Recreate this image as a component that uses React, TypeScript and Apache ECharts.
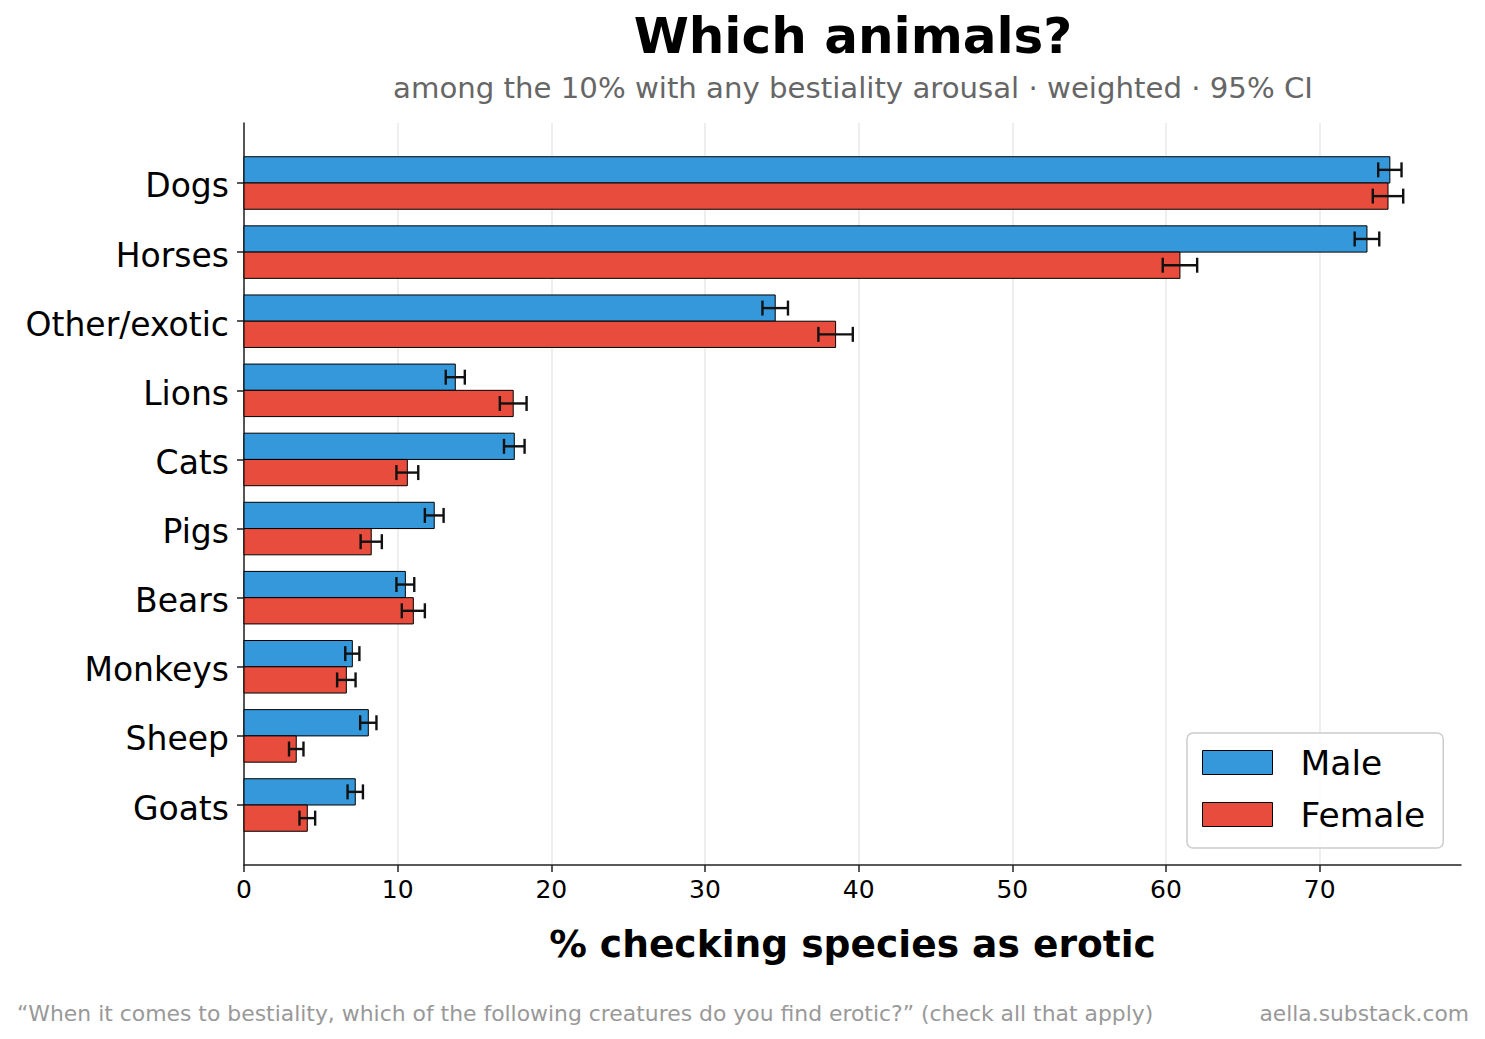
import React, { useEffect, useRef } from "react";
import * as echarts from "echarts";

const categories = ["Dogs", "Horses", "Other/exotic", "Lions", "Cats", "Pigs", "Bears", "Monkeys", "Sheep", "Goats"];
const maleValues = [74.57, 73.08, 34.57, 13.75, 17.59, 12.38, 10.5, 7.05, 8.09, 7.24];
const maleErr = [0.76, 0.8, 0.83, 0.62, 0.67, 0.61, 0.58, 0.46, 0.53, 0.5];
const femaleValues = [74.45, 60.91, 38.5, 17.52, 10.63, 8.28, 11.02, 6.66, 3.4, 4.12];
const femaleErr = [0.99, 1.12, 1.12, 0.87, 0.71, 0.69, 0.75, 0.6, 0.47, 0.51];
const xTicks = [0, 10, 20, 30, 40, 50, 60, 70];

const MALE_COLOR = "#3498db";
const FEMALE_COLOR = "#e74c3c";
const FONT = "DejaVu Sans";
const BAR_H = 0.38;

function makeRender(offsetSign: number) {
  return (params: any, api: any) => {
    const idx = api.value(0);
    const v = api.value(1);
    const e = api.value(2);
    const yA = idx + (offsetSign < 0 ? -BAR_H : 0);
    const yB = idx + (offsetSign < 0 ? 0 : BAR_H);
    const yC = (yA + yB) / 2;
    const p0 = api.coord([0, yA]);
    const p1 = api.coord([v, yB]);
    const pc = api.coord([v, yC]);
    const lo = api.coord([v - e, yC]);
    const hi = api.coord([v + e, yC]);
    const x = Math.min(p0[0], p1[0]);
    const y = Math.min(p0[1], p1[1]);
    const cap = 7.5;
    const errStyle = { stroke: "#111", lineWidth: 2.4 };
    return {
      type: "group",
      children: [
        {
          type: "rect",
          shape: { x, y, width: Math.abs(p1[0] - p0[0]), height: Math.abs(p1[1] - p0[1]) },
          style: { fill: api.visual("color"), stroke: "#000", lineWidth: 1 },
        },
        { type: "line", shape: { x1: lo[0], y1: pc[1], x2: hi[0], y2: pc[1] }, style: errStyle },
        { type: "line", shape: { x1: lo[0], y1: pc[1] - cap, x2: lo[0], y2: pc[1] + cap }, style: errStyle },
        { type: "line", shape: { x1: hi[0], y1: pc[1] - cap, x2: hi[0], y2: pc[1] + cap }, style: errStyle },
      ],
    };
  };
}

export default function App() {
  const ref = useRef<HTMLDivElement>(null);
  useEffect(() => {
    if (!ref.current) return;
    const chart = echarts.init(ref.current, undefined, { renderer: "svg" });
    const maleData = categories.map((_, i) => [i, maleValues[i], maleErr[i]]);
    const femaleData = categories.map((_, i) => [i, femaleValues[i], femaleErr[i]]);
    chart.setOption({
      animation: false,
      backgroundColor: "#fff",
      textStyle: { fontFamily: FONT },
      title: [
        {
          text: "Which animals?",
          left: 848,
          top: 6,
          textAlign: "center",
          textStyle: { fontFamily: FONT, fontSize: 50, fontWeight: "bold", color: "#000" },
        },
        {
          text: "among the 10% with any bestiality arousal · weighted · 95% CI",
          left: 848,
          top: 68,
          textAlign: "center",
          textStyle: { fontFamily: FONT, fontSize: 29.2, fontWeight: "normal", color: "#666" },
        },
      ],
      grid: { left: 244, right: 24, top: 123, bottom: 174, containLabel: false, outerBoundsMode: "none" },
      legend: {
        orient: "vertical",
        left: 1187,
        top: 733,
        icon: "rect",
        itemWidth: 70,
        itemHeight: 24,
        itemGap: 17,
        padding: [12, 18, 16, 15],
        borderColor: "#cccccc",
        borderWidth: 1.5,
        borderRadius: 6,
        backgroundColor: "rgba(255,255,255,0.85)",
        textStyle: { fontFamily: FONT, fontSize: 34.5, color: "#000", padding: [0, 0, 0, 23] },
        data: [
          { name: "Male", itemStyle: { color: MALE_COLOR, borderColor: "#000", borderWidth: 1 } },
          { name: "Female", itemStyle: { color: FEMALE_COLOR, borderColor: "#000", borderWidth: 1 } },
        ],
      },
      xAxis: {
        type: "value",
        min: 0,
        max: 79.2,
        interval: 10,
        name: "% checking species as erotic",
        nameLocation: "middle",
        nameGap: 60,
        nameTextStyle: { fontFamily: FONT, fontSize: 37.6, fontWeight: "bold", color: "#000" },
        axisLine: { show: true, onZero: false, lineStyle: { color: "#222", width: 1.5 } },
        axisTick: { show: true, customValues: xTicks, length: 7, lineStyle: { color: "#222", width: 1.5 } },
        axisLabel: { customValues: xTicks, fontFamily: FONT, fontSize: 25, color: "#000", margin: 12 },
        splitLine: { show: true, lineStyle: { color: "#e8e8e8", width: 1.5 } },
      },
      yAxis: {
        type: "value",
        inverse: true,
        min: -0.868,
        max: 9.868,
        axisLine: { show: true, onZero: false, lineStyle: { color: "#222", width: 1.5 } },
        axisTick: {
          show: true,
          customValues: categories.map((_, i) => i),
          length: 7,
          lineStyle: { color: "#222", width: 1.5 },
        },
        axisLabel: {
          customValues: categories.map((_, i) => i),
          formatter: (v: number) => "{c|" + (categories[Math.round(v)] ?? "") + "}",
          rich: { c: { fontFamily: FONT, fontSize: 33, color: "#000", padding: [6, 0, 0, 0] } },
          fontFamily: FONT,
          fontSize: 33,
          color: "#000",
          margin: 15,
        },
        splitLine: { show: false },
      },
      series: [
        {
          name: "Male",
          type: "custom",
          renderItem: makeRender(-1),
          itemStyle: { color: MALE_COLOR },
          encode: { x: 1, y: 0 },
          data: maleData,
        },
        {
          name: "Female",
          type: "custom",
          renderItem: makeRender(1),
          itemStyle: { color: FEMALE_COLOR },
          encode: { x: 1, y: 0 },
          data: femaleData,
        },
      ],
      graphic: [
        {
          type: "text",
          left: 17,
          top: 1002,
          style: {
            text: "“When it comes to bestiality, which of the following creatures do you find erotic?” (check all that apply)",
            fontFamily: FONT,
            fontSize: 21.9,
            fill: "#999",
          },
        },
        {
          type: "text",
          right: 16,
          top: 1002,
          style: { text: "aella.substack.com", fontFamily: FONT, fontSize: 21.8, fill: "#999" },
        },
      ],
    });
    return () => chart.dispose();
  }, []);
  return <div ref={ref} style={{ position: "absolute", left: 0, top: 0, width: 1485, height: 1039 }} />;
}
